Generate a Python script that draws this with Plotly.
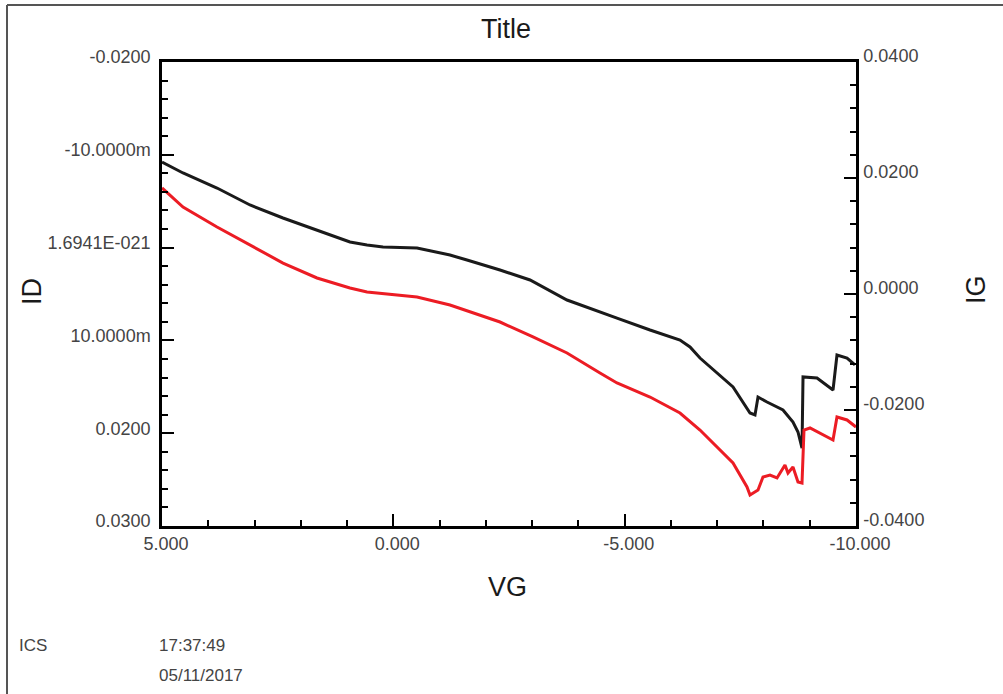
import plotly.graph_objects as go

# ---- data ----
vg_black = [5.000, 4.546, 3.811, 3.098, 2.385, 1.650, 0.937, 0.569, 0.223, -0.512,
            -1.225, -1.592, -2.306, -2.954, -3.754, -4.834, -5.548, -6.196, -6.412, -6.628,
            -7.342, -7.709, -7.817, -7.882, -8.076, -8.422, -8.638, -8.746, -8.833, -8.855,
            -9.157, -9.503, -9.589, -9.806, -9.978]
id_black = [-0.00922, -0.00804, -0.00642, -0.00459, -0.00319, -0.00190, -0.00060, -0.00028, -0.00006, 0.00004,
            0.00080, 0.00134, 0.00241, 0.00349, 0.00565, 0.00759, 0.00888, 0.00996, 0.01071, 0.01190,
            0.01502, 0.01782, 0.01804, 0.01610, 0.01664, 0.01750, 0.01879, 0.01987, 0.02160, 0.01394,
            0.01405, 0.01534, 0.01157, 0.01190, 0.01265]

vg_red = [5.000, 4.546, 3.811, 3.098, 2.385, 1.650, 0.937, 0.569, -0.144, -0.512,
          -1.225, -2.306, -3.019, -3.754, -4.467, -4.834, -5.548, -6.196, -6.628, -6.996,
          -7.342, -7.644, -7.709, -7.882, -7.990, -8.141, -8.293, -8.465, -8.530, -8.638,
          -8.746, -8.833, -8.876, -9.006, -9.503, -9.589, -9.806, -10.000]
ig_red = [0.01828, 0.01500, 0.01155, 0.00845, 0.00534, 0.00276, 0.00103, 0.00034, -0.00017, -0.00052,
          -0.00190, -0.00483, -0.00741, -0.01017, -0.01362, -0.01534, -0.01776, -0.02052, -0.02345, -0.02638,
          -0.02914, -0.03328, -0.03466, -0.03379, -0.03155, -0.03121, -0.03172, -0.02948, -0.03086, -0.02983,
          -0.03241, -0.03259, -0.02345, -0.02310, -0.02517, -0.02121, -0.02172, -0.02293]

x_tickvals = [5, 0, -5, -10]
x_ticktext = ["5.000", "0.000", "-5.000", "-10.000"]
y_tickvals = [-0.02, -0.01, 0.0, 0.01, 0.02, 0.03]
y_ticktext = ["-0.0200", "-10.0000m", "1.6941E-021", "10.0000m", "0.0200", "0.0300"]
y2_tickvals = [0.04, 0.02, 0.0, -0.02, -0.04]
y2_ticktext = ["0.0400", "0.0200", "0.0000", "-0.0200", "-0.0400"]

# ---- layout geometry (pixels) ----
W, H = 1003, 694
L, R, T, B = 162, 856, 62, 526
PW, PH = R - L, B - T


def px_x(p):
    return (p - L) / PW


def px_y(p):
    return (B - p) / PH


FONT = "Arial, Liberation Sans, sans-serif"
TICKFONT = dict(family=FONT, size=18, color="#444444")

fig = go.Figure()
fig.add_trace(go.Scatter(x=vg_black, y=id_black, mode="lines", yaxis="y",
                         line=dict(color="#1a1a1a", width=3), name="ID"))
fig.add_trace(go.Scatter(x=vg_red, y=ig_red, mode="lines", yaxis="y2",
                         line=dict(color="#ec1c24", width=3), name="IG"))

axis_common = dict(showline=True, linecolor="black", linewidth=2.5, ticks="inside",
                   ticklen=12, tickwidth=2, tickcolor="black", showgrid=False,
                   zeroline=False, tickfont=TICKFONT)

fig.update_layout(
    width=W, height=H, autosize=False,
    margin=dict(l=L, r=W - R, t=T, b=H - B),
    paper_bgcolor="white", plot_bgcolor="white",
    showlegend=False,
    xaxis=dict(range=[5, -10], tickmode="array", tickvals=x_tickvals, ticktext=x_ticktext,
               mirror=True, ticklabelstandoff=0, ticklabelshift=-4,
               minor=dict(ticks="inside", ticklen=6, tickwidth=2, tickcolor="black",
                          tickmode="linear", tick0=0, dtick=1),
               **axis_common),
    yaxis=dict(range=[0.03, -0.02], tickmode="array", tickvals=y_tickvals, ticktext=y_ticktext,
               ticklabelstandoff=5, ticklabelshift=5,
               minor=dict(ticks="inside", ticklen=6, tickwidth=2, tickcolor="black",
                          tickmode="linear", tick0=0, dtick=0.002),
               **axis_common),
    yaxis2=dict(range=[-0.04, 0.04], overlaying="y", side="right", anchor="x",
                tickmode="array", tickvals=y2_tickvals, ticktext=y2_ticktext,
                ticklabelstandoff=1, ticklabelshift=-6,
                minor=dict(ticks="inside", ticklen=6, tickwidth=2, tickcolor="black",
                           tickmode="linear", tick0=0, dtick=0.004),
                **axis_common),
)

annots = [
    dict(text="Title", x=px_x(506), y=px_y(29), size=27, angle=0),
    dict(text="VG", x=px_x(507), y=px_y(587), size=27, angle=0),
    dict(text="ID", x=px_x(32), y=px_y(292), size=27, angle=-90),
    dict(text="IG", x=px_x(976), y=px_y(290), size=27, angle=-90),
]
for a in annots:
    fig.add_annotation(text=a["text"], x=a["x"], y=a["y"], xref="paper", yref="paper",
                       showarrow=False, textangle=a["angle"], xanchor="center", yanchor="middle",
                       font=dict(family=FONT, size=a["size"], color="#1a1a1a"))

small = [("ICS", 17, 645), ("17:37:49", 157, 645), ("05/11/2017", 157, 675)]
for txt, xp, yp in small:
    fig.add_annotation(text=txt, x=px_x(xp), y=px_y(yp), xref="paper", yref="paper",
                       showarrow=False, xanchor="left", yanchor="middle",
                       font=dict(family=FONT, size=17, color="#444444"))

# window frame lines (left and top)
fig.add_shape(type="line", xref="paper", yref="paper", x0=px_x(7), x1=px_x(7),
              y0=px_y(5), y1=px_y(H + 5), line=dict(color="#555555", width=2))
fig.add_shape(type="line", xref="paper", yref="paper", x0=px_x(7), x1=px_x(W + 5),
              y0=px_y(5), y1=px_y(5), line=dict(color="#555555", width=2))

fig.write_html("out.html", config={"displayModeBar": False})
